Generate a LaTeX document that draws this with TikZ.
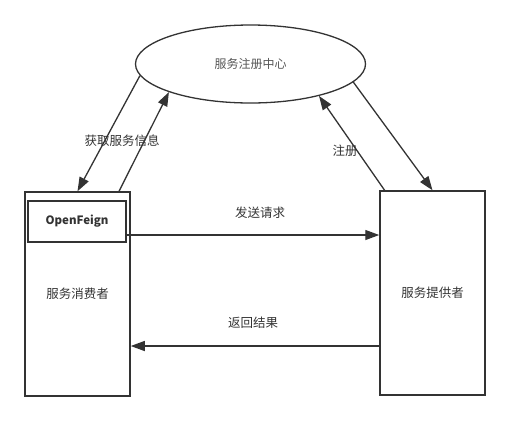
\documentclass[tikz,border=0pt]{standalone}
\usepackage{fontspec}
\setmainfont{Noto Sans CJK SC}
\usepackage{tikz}
\usetikzlibrary{positioning,arrows.meta,shapes.geometric,calc}
\definecolor{LineGray}{HTML}{333333}
\definecolor{TextGray}{HTML}{555555}

\begin{document}
\begin{tikzpicture}[x=1pt,y=-1pt,
  center/.style={draw=LineGray, ellipse, line width=1.3pt, minimum width=230pt, minimum height=78pt, inner sep=0pt, font=\fontsize{12}{14}\selectfont, text=TextGray},
  svc/.style={draw=LineGray, line width=1.5pt, minimum width=105pt, minimum height=204pt, inner sep=0pt, font=\fontsize{12.5}{15}\selectfont, text=LineGray},
  tool/.style={draw=LineGray, line width=1.5pt, minimum width=98pt, minimum height=41pt, inner sep=0pt, font=\bfseries\fontsize{11.5}{14}\selectfont, text=LineGray},
  lbl/.style={font=\fontsize{12.5}{15}\selectfont, text=LineGray},
  flow/.style={draw=LineGray, line width=1.3pt, -{Triangle[length=14pt,width=10pt]}}]
\useasboundingbox (0,0) rectangle (510,421);
\node[center] (reg)  at (250.5,64)  {服务注册中心};
\node[svc]    (cons) at (77.5,294)  {服务消费者};
\node[svc]    (prov) at (432.5,293) {服务提供者};
\node[tool]   (feign) at (77,221.5) {OpenFeign};
\draw[flow] (reg.186.6) -- (cons.north);
\draw[flow] (cons.68) -- (reg.199.5);
\node[lbl] (getinfo) at (122,141) {获取服务信息};
\draw[flow] (prov.115) -- (reg.335);
\draw[flow] (reg.350.5) -- (prov.north);
\node[lbl] (regist) at (345,151) {注册};
\draw[flow] ([yshift=-13.5pt]feign.east) -- ([yshift=-13.5pt]feign.east -| prov.west);
\node[lbl] (send) at (260,213) {发送请求};
\draw[flow] ([yshift=-53pt]prov.west) -- ([yshift=-53pt]prov.west -| cons.east);
\node[lbl] (back) at (253,323) {返回结果};
\end{tikzpicture}
\end{document}
